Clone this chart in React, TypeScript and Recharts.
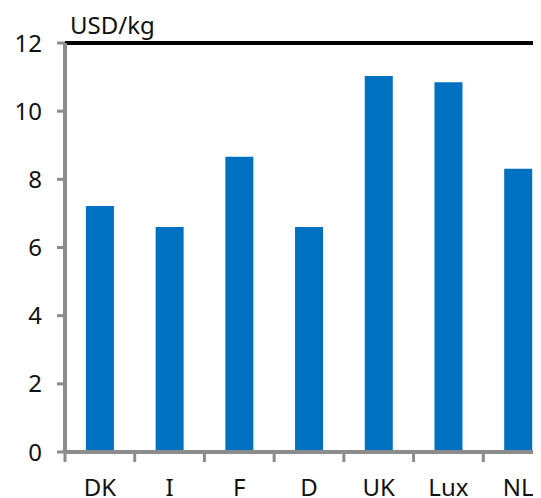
import { BarChart, Bar, XAxis, YAxis, ReferenceLine } from 'recharts';

const categories = ['DK', 'I', 'F', 'D', 'UK', 'Lux', 'NL'];
const prices = [7.22, 6.6, 8.66, 6.6, 11.03, 10.85, 8.31];
const yTicks = [0, 2, 4, 6, 8, 10, 12];

const data = categories.map((name, i) => ({ name, value: prices[i] }));

const CHART_W = 560;
const CHART_H = 490;
const Y_AXIS_W = 57;
const MARGIN = { top: 35, right: 15, left: 0, bottom: 0 };
const X_AXIS_H = 46;
const PLOT_W = CHART_W - Y_AXIS_W - MARGIN.left - MARGIN.right;
const BAND = PLOT_W / categories.length;
const X_TICK_SIZE = 10;
const X_TICK_MARGIN = 4;

const GRAY = '#8c8c8c';
const BLUE = '#0070c0';
const FONT = '"Noto Sans", "Open Sans", sans-serif';

const XTick = (props: any) => {
  const { x, y, payload } = props;
  const axisY = y - X_TICK_SIZE - X_TICK_MARGIN;
  const left = x - BAND / 2;
  return (
    <g>
      <line x1={left} x2={left} y1={axisY} y2={axisY + X_TICK_SIZE} stroke={GRAY} strokeWidth={3} />
      <text x={x} y={axisY + 44} textAnchor="middle" fontSize={24} fontFamily={FONT} fill="#111">
        {payload.value}
      </text>
    </g>
  );
};

export default function App() {
  return (
    <div style={{ position: 'relative', width: 533, height: 490, overflow: 'hidden' }}>
      <div
        style={{
          position: 'absolute',
          left: 62,
          top: 3,
          fontSize: 24,
          fontFamily: FONT,
          color: '#111',
          lineHeight: '28px',
        }}
      >
        USD/kg
      </div>
      <BarChart width={CHART_W} height={CHART_H} data={data} margin={MARGIN} barCategoryGap="30%">
        <XAxis
          dataKey="name"
          height={X_AXIS_H}
          axisLine={{ stroke: GRAY, strokeWidth: 4 }}
          tickLine={false}
          tickSize={X_TICK_SIZE}
          tickMargin={X_TICK_MARGIN}
          tick={<XTick />}
          interval={0}
        />
        <YAxis
          width={Y_AXIS_W}
          domain={[0, 12]}
          ticks={yTicks}
          interval={0}
          axisLine={{ stroke: GRAY, strokeWidth: 4 }}
          tickLine={{ stroke: GRAY, strokeWidth: 3 }}
          tickSize={8}
          tickMargin={15}
          tick={{ fontSize: 24, fontFamily: FONT, fill: '#111' }}
        />
        <ReferenceLine y={12} stroke="#000" strokeWidth={4} />
        <Bar dataKey="value" fill={BLUE} isAnimationActive={false} />
      </BarChart>
    </div>
  );
}
